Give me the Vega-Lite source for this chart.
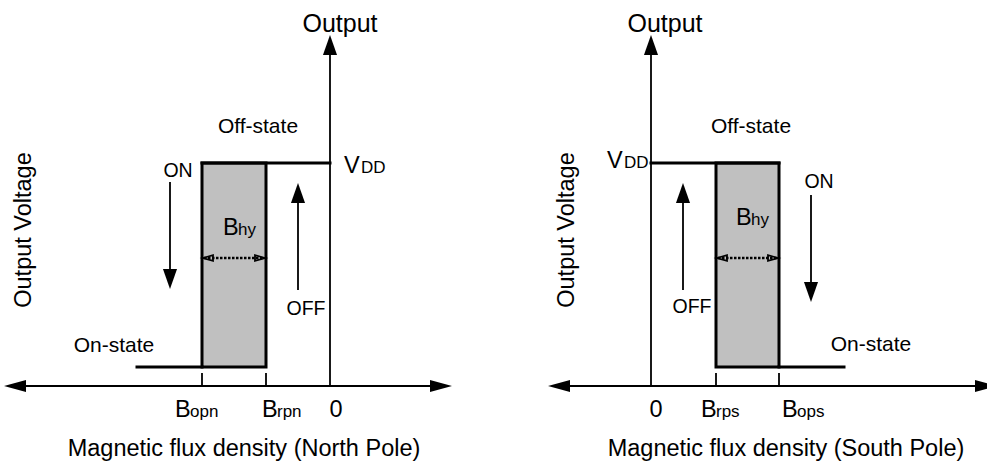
{
  "$schema": "https://vega.github.io/schema/vega-lite/v6.json",
  "width": 987,
  "height": 463,
  "padding": 0,
  "autosize": {"type": "none"},
  "background": "white",
  "config": {"view": {"stroke": null}, "axis": {"disable": true}, "text": {"font": "Liberation Sans", "color": "black"}},
  "datasets": {
    "region": [
      {"x": 202, "x2": 266, "y": 163, "y2": 367},
      {"x": 716, "x2": 779, "y": 163, "y2": 367}
    ],
    "thick": [
      {"x": 202, "x2": 330, "y": 163, "y2": 163},
      {"x": 137, "x2": 202, "y": 367, "y2": 367},
      {"x": 651, "x2": 779, "y": 163, "y2": 163},
      {"x": 779, "x2": 844, "y": 367, "y2": 367}
    ],
    "thin": [
      {"x": 15, "x2": 441, "y": 386, "y2": 386},
      {"x": 330, "x2": 330, "y": 386, "y2": 45},
      {"x": 559, "x2": 986, "y": 386, "y2": 386},
      {"x": 651, "x2": 651, "y": 386, "y2": 45},
      {"x": 202, "x2": 202, "y": 373, "y2": 386},
      {"x": 266, "x2": 266, "y": 373, "y2": 386},
      {"x": 716, "x2": 716, "y": 373, "y2": 386},
      {"x": 779, "x2": 779, "y": 373, "y2": 386},
      {"x": 170, "x2": 170, "y": 182, "y2": 279},
      {"x": 298, "x2": 298, "y": 290, "y2": 193},
      {"x": 811, "x2": 811, "y": 195, "y2": 292},
      {"x": 683, "x2": 683, "y": 290, "y2": 193}
    ],
    "dotted": [
      {"x": 204, "x2": 264, "y": 258, "y2": 258},
      {"x": 718, "x2": 777, "y": 258, "y2": 258}
    ],
    "heads": [
      {"x": 15, "y": 386, "dir": "left"},
      {"x": 441, "y": 386, "dir": "right"},
      {"x": 559, "y": 386, "dir": "left"},
      {"x": 986, "y": 386, "dir": "right"},
      {"x": 330, "y": 45, "dir": "up"},
      {"x": 651, "y": 45, "dir": "up"},
      {"x": 170, "y": 279, "dir": "down"},
      {"x": 298, "y": 193, "dir": "up"},
      {"x": 811, "y": 292, "dir": "down"},
      {"x": 683, "y": 193, "dir": "up"}
    ],
    "chevrons": [
      {"x": 208, "y": 258, "dir": "left"},
      {"x": 260, "y": 258, "dir": "right"},
      {"x": 722, "y": 258, "dir": "left"},
      {"x": 773, "y": 258, "dir": "right"}
    ],
    "big": [
      {"x": 340, "y": 32, "t": "Output"},
      {"x": 665, "y": 32, "t": "Output"}
    ],
    "mid": [
      {"x": 258, "y": 133, "t": "Off-state"},
      {"x": 751, "y": 133, "t": "Off-state"},
      {"x": 114, "y": 352, "t": "On-state"},
      {"x": 871, "y": 351, "t": "On-state"}
    ],
    "titles": [
      {"x": 244, "y": 456, "t": "Magnetic flux density (North Pole)"},
      {"x": 786, "y": 456, "t": "Magnetic flux density (South Pole)"},
      {"x": 336, "y": 417, "t": "0"},
      {"x": 656, "y": 417, "t": "0"}
    ],
    "mains": [
      {"x": 175, "y": 417, "t": "B"},
      {"x": 262, "y": 417, "t": "B"},
      {"x": 701, "y": 417, "t": "B"},
      {"x": 782, "y": 417, "t": "B"},
      {"x": 223, "y": 235, "t": "B"},
      {"x": 736, "y": 225, "t": "B"},
      {"x": 344, "y": 173, "t": "V"},
      {"x": 607, "y": 168, "t": "V"}
    ],
    "subs": [
      {"x": 190, "y": 417, "t": "opn"},
      {"x": 277, "y": 417, "t": "rpn"},
      {"x": 716, "y": 417, "t": "rps"},
      {"x": 797, "y": 417, "t": "ops"},
      {"x": 238, "y": 235, "t": "hy"},
      {"x": 751, "y": 225, "t": "hy"},
      {"x": 361, "y": 173, "t": "DD"},
      {"x": 624, "y": 168, "t": "DD"}
    ],
    "small": [
      {"x": 178, "y": 177, "t": "ON"},
      {"x": 819, "y": 188, "t": "ON"},
      {"x": 306, "y": 315, "t": "OFF"},
      {"x": 692, "y": 313, "t": "OFF"}
    ],
    "vert": [
      {"x": 31, "y": 230, "t": "Output Voltage"},
      {"x": 574, "y": 230, "t": "Output Voltage"}
    ]
  },
  "encoding": {
    "x": {"field": "x", "type": "quantitative", "scale": {"domain": [0, 987], "nice": false, "zero": false}},
    "y": {"field": "y", "type": "quantitative", "scale": {"domain": [0, 463], "nice": false, "zero": false, "reverse": true}}
  },
  "layer": [
    {
      "data": {"name": "region"},
      "mark": {"type": "rect", "fill": "#c0c0c0", "stroke": "black", "strokeWidth": 3},
      "encoding": {"x2": {"field": "x2"}, "y2": {"field": "y2"}}
    },
    {
      "data": {"name": "thick"},
      "mark": {"type": "rule", "stroke": "black", "strokeWidth": 3, "strokeCap": "square"},
      "encoding": {"x2": {"field": "x2"}, "y2": {"field": "y2"}}
    },
    {
      "data": {"name": "thin"},
      "mark": {"type": "rule", "stroke": "black", "strokeWidth": 1.8},
      "encoding": {"x2": {"field": "x2"}, "y2": {"field": "y2"}}
    },
    {
      "data": {"name": "dotted"},
      "mark": {"type": "rule", "stroke": "black", "strokeWidth": 2.5, "strokeDash": [2.5, 1.5]},
      "encoding": {"x2": {"field": "x2"}, "y2": {"field": "y2"}}
    },
    {
      "data": {"name": "heads"},
      "mark": {"type": "point", "filled": true, "fill": "black", "strokeWidth": 0, "size": 484, "opacity": 1},
      "encoding": {
        "shape": {"field": "dir", "type": "nominal", "legend": null, "scale": {"domain": ["left", "right", "up", "down"], "range": ["M-1,0L1,-0.55L1,0.55Z", "M1,0L-1,-0.55L-1,0.55Z", "M0,-0.91L0.64,0.91L-0.64,0.91Z", "M0,0.91L0.64,-0.91L-0.64,-0.91Z"]}}
      }
    },
    {
      "data": {"name": "chevrons"},
      "mark": {"type": "point", "filled": false, "stroke": "black", "strokeWidth": 1.8, "size": 100, "opacity": 1},
      "encoding": {
        "shape": {"field": "dir", "type": "nominal", "legend": null, "scale": {"domain": ["left", "right"], "range": ["M1,-1L-1,0L1,1", "M-1,-1L1,0L-1,1"]}}
      }
    },
    {
      "data": {"name": "big"},
      "mark": {"type": "text", "fontSize": 25, "align": "center", "baseline": "alphabetic"},
      "encoding": {"text": {"field": "t"}}
    },
    {
      "data": {"name": "mid"},
      "mark": {"type": "text", "fontSize": 21, "align": "center", "baseline": "alphabetic"},
      "encoding": {"text": {"field": "t"}}
    },
    {
      "data": {"name": "titles"},
      "mark": {"type": "text", "fontSize": 23.5, "align": "center", "baseline": "alphabetic"},
      "encoding": {"text": {"field": "t"}}
    },
    {
      "data": {"name": "mains"},
      "mark": {"type": "text", "fontSize": 23.5, "align": "left", "baseline": "alphabetic"},
      "encoding": {"text": {"field": "t"}}
    },
    {
      "data": {"name": "subs"},
      "mark": {"type": "text", "fontSize": 17, "align": "left", "baseline": "alphabetic"},
      "encoding": {"text": {"field": "t"}}
    },
    {
      "data": {"name": "small"},
      "mark": {"type": "text", "fontSize": 19.5, "align": "center", "baseline": "alphabetic"},
      "encoding": {"text": {"field": "t"}}
    },
    {
      "data": {"name": "vert"},
      "mark": {"type": "text", "fontSize": 23.5, "align": "center", "baseline": "alphabetic", "angle": 270},
      "encoding": {"text": {"field": "t"}}
    }
  ]
}
